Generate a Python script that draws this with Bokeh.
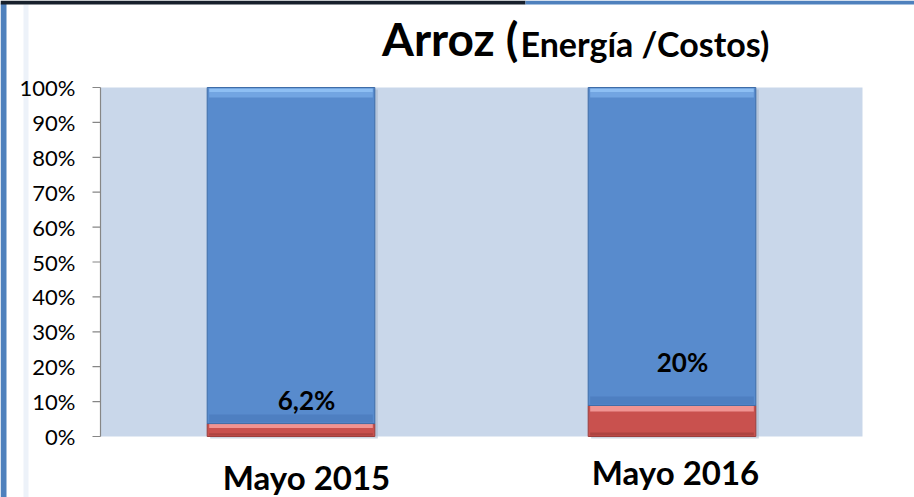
from bokeh.plotting import figure
from bokeh.models import Range1d
from bokeh.core.properties import value
from bokeh.embed import file_html
from bokeh.resources import INLINE
import numpy as np

# ---------------- data ----------------
categories = ["Mayo 2015", "Mayo 2016"]
energia_pct = [3.7, 8.9]      # red segment (as drawn)
costos_pct = [96.3, 91.1]     # blue segment (rest up to 100 %)
value_labels = ["6,2%", "20%"]
y_ticks = [0, 10, 20, 30, 40, 50, 60, 70, 80, 90, 100]
title_main = "Arroz ("
title_sub = "Energía /Costos)"

# ---------------- layout (pixels) ----------------
W, H = 914, 497
PL, PR, PT, PB = 100, 862, 87, 436      # plot area
NX = len(categories)
BAR_W = 0.44
UX = (PR - PL) / NX          # px per x unit
UY = (PB - PT) / 100.0       # px per y unit

def xd(px):
    return (px - PL) / UX

def yd(py):
    return (PB - py) / UY

def hpx(n):
    return n / UY

def mid(baseline_px, size):
    # vertical middle of a text whose baseline sits at baseline_px
    return yd(baseline_px - 0.36 * size)

FONT = "Lato"

p = figure(width=W, height=H, output_backend="svg", toolbar_location=None, tools="",
           x_range=Range1d(xd(0), xd(W)), y_range=Range1d(yd(H), yd(0)))
p.min_border_left = p.min_border_right = p.min_border_top = p.min_border_bottom = 0
p.background_fill_color = "white"
p.border_fill_color = "white"
p.outline_line_color = None
p.grid.visible = False
p.axis.visible = False

# slide decorations
p.quad(left=xd(0), right=xd(6), bottom=yd(H), top=yd(3), fill_color="#4f81bd", line_color=None)
p.quad(left=xd(23), right=xd(28), bottom=yd(H), top=yd(4), fill_color="#edf2f9", line_color=None)
p.quad(left=xd(0), right=xd(525), bottom=yd(4), top=yd(0), fill_color="#17202c", line_color=None)
p.quad(left=xd(525), right=xd(W), bottom=yd(4), top=yd(0), fill_color="#4f81bd", line_color=None)

# plot area background
p.quad(left=0, right=NX, bottom=y_ticks[0], top=y_ticks[-1], fill_color="#c9d7ea", line_color=None)

# y axis (drawn from tick array)
yt = np.array(y_ticks, dtype=float)
p.segment(x0=[0], y0=[yt[0]], x1=[0], y1=[yt[-1]], line_color="#868686", line_width=1.2)
p.segment(x0=np.full(len(yt), xd(92)), y0=yt, x1=np.zeros(len(yt)), y1=yt,
          line_color="#868686", line_width=1.2)
p.text(x=np.full(len(yt), xd(75)), y=yt, text=[f"{int(t)}%" for t in y_ticks],
       text_font=value(FONT), text_font_size=value("22px"), text_align="right",
       text_baseline="middle", text_color="black")

xc = np.arange(NX) + 0.5
red = np.array(energia_pct, dtype=float)
blue = np.array(costos_pct, dtype=float)
left = xc - BAR_W / 2
right = xc + BAR_W / 2
inset = 2 / UX

# shadow
p.quad(left=left + 3 / UX, right=right + 3 / UX, bottom=np.full(NX, -hpx(2)), top=red + blue - hpx(2),
       fill_color="#9fb0c6", fill_alpha=0.5, line_color=None)

# red segment
p.quad(left=left, right=right, bottom=np.zeros(NX), top=red,
       fill_color="#c9514e", line_color="#9c3f3d", line_width=1)
red_top_h = np.minimum(hpx(6), red * 0.35)
p.quad(left=left + inset, right=right - inset, bottom=red - red_top_h, top=red,
       fill_color="#f09492", line_color=None)
p.quad(left=left + inset, right=right - inset, bottom=np.zeros(NX) + hpx(1), top=np.minimum(hpx(4), red * 0.25),
       fill_color="#ad4441", line_color=None)

# blue segment
btop = red + blue
p.quad(left=left, right=right, bottom=red, top=btop,
       fill_color="#588bcd", line_color="#3f6da8", line_width=1)
p.quad(left=left + inset, right=right - inset, bottom=btop - hpx(5), top=btop - hpx(1),
       fill_color="#8ebff3", line_color=None)
p.quad(left=left + inset, right=right - inset, bottom=btop - hpx(10), top=btop - hpx(5),
       fill_color="#72a5e2", line_color=None)
p.quad(left=left + inset, right=right - inset, bottom=red + hpx(1), top=red + hpx(9),
       fill_color="#4e7fc1", line_color=None)

# value labels
VAL_SIZE = 26
val_pos = [(306, 409), (682, 371)]
p.text(x=[xd(px) for px, _ in val_pos], y=[mid(py, VAL_SIZE) for _, py in val_pos], text=value_labels,
       text_font=value(FONT), text_font_style="bold", text_font_size=value(f"{VAL_SIZE}px"),
       text_align="center", text_baseline="middle", text_color="black")

# category labels
CAT_SIZE = 33
cat_pos = [(306, 488), (675, 483)]
p.text(x=[xd(px) for px, _ in cat_pos], y=[mid(py, CAT_SIZE) for _, py in cat_pos], text=categories,
       text_font=value(FONT), text_font_style="bold", text_font_size=value(f"{CAT_SIZE}px"),
       text_align="center", text_baseline="middle", text_color="black")

# title
T1, T2 = 46, 34
p.text(x=[xd(518)], y=[mid(55, T1)], text=[title_main], text_font=value(FONT), text_font_style="bold",
       text_font_size=value(f"{T1}px"), text_align="right", text_baseline="middle", text_color="black")
p.text(x=[xd(520)], y=[mid(55, T2)], text=[title_sub], text_font=value(FONT), text_font_style="bold",
       text_font_size=value(f"{T2}px"), text_align="left", text_baseline="middle", text_color="black")

open("out.html", "w").write(file_html(p, INLINE))
